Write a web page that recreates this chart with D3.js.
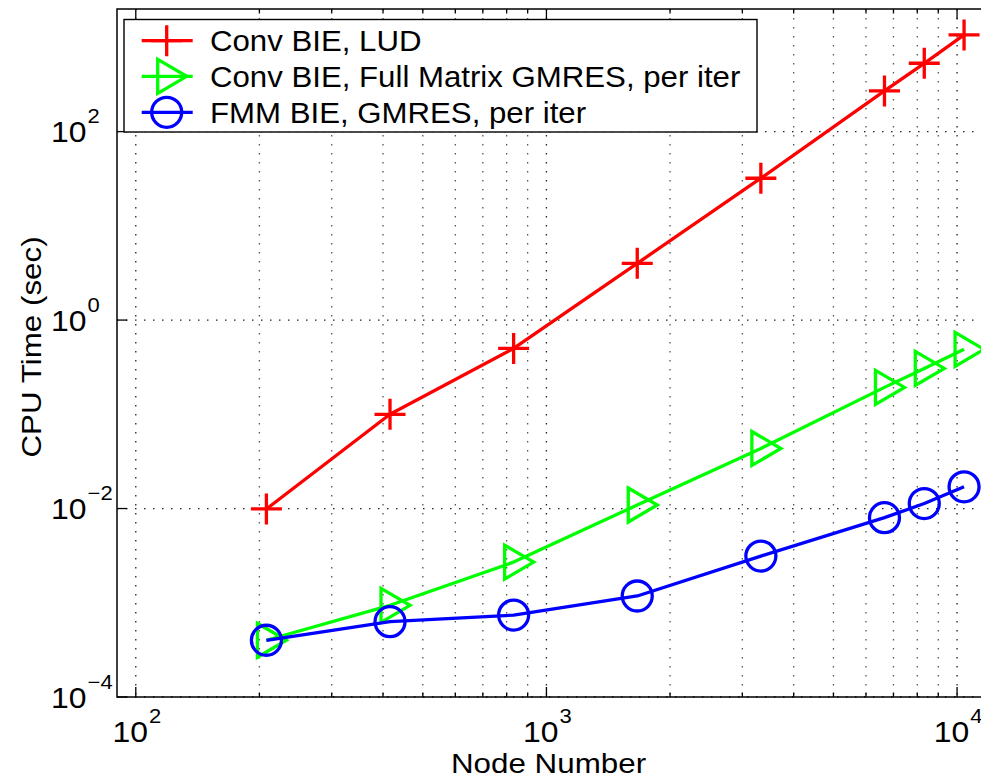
<!DOCTYPE html>
<html>
<head>
<meta charset="utf-8">
<script src="https://cdn.jsdelivr.net/npm/d3@7/dist/d3.min.js"></script>
<style>
  html, body { margin: 0; padding: 0; background: #fff; }
  svg { display: block; }
  text { font-family: "Liberation Sans", Arial, Helvetica, sans-serif; fill: #000; }
</style>
</head>
<body>
<svg id="chart" width="981" height="778"></svg>
<script>
// Node counts (x) and CPU times in seconds (y) for each solver
const nodes      = [208, 416, 832, 1664, 3328, 6656, 8320, 10400];
const convLUD    = [0.0099, 0.1, 0.5, 4.0, 32, 270, 531, 1062];
const convGMRES  = [4.0e-4, 9.4e-4, 2.7e-3, 0.0109, 0.0434, 0.193, 0.307, 0.489];
const fmmGMRES   = [4.0e-4, 6.3e-4, 7.4e-4, 1.18e-3, 3.13e-3, 8.0e-3, 0.0113, 0.0170];

const seriesNames  = ["Conv BIE, LUD", "Conv BIE, Full Matrix GMRES, per iter", "FMM BIE, GMRES, per iter"];
const seriesColors = ["#ff0000", "#00ff00", "#0000ff"];
const seriesMarks  = ["plus", "triangle", "circle"];

// Axis limits and labelled ticks
const xLim = [90, 11500];
const yLim = [1e-4, 2000];
const xTickExps = [2, 3, 4];
const yTickExps = [-4, -2, 0, 2];
const xLabel = "Node Number";
const yLabel = "CPU Time (sec)";

const plot = { left: 117, right: 982, top: 9, bottom: 697 };

const svg = d3.select("#chart");
const x = d3.scaleLog().domain(xLim).range([plot.left, plot.right]);
const y = d3.scaleLog().domain(yLim).range([plot.bottom, plot.top]);

// ---- grid ----
const grid = svg.append("g").attr("stroke-dasharray", "1.5,7.5").attr("fill", "none");
const xGridVals = [];
for (let e = 1; e <= 4; e++) for (let m = 1; m <= 9; m++) {
  const v = m * Math.pow(10, e);
  if (v > xLim[0] && v < xLim[1]) xGridVals.push(v);
}
grid.selectAll("line.xg").data(xGridVals).join("line")
  .attr("x1", d => x(d)).attr("x2", d => x(d))
  .attr("y1", plot.top).attr("y2", plot.bottom)
  .attr("stroke", d => Number.isInteger(Math.log10(d)) ? "#222" : "#555")
  .attr("stroke-width", 1.3);
grid.selectAll("line.yg").data(yTickExps.map(e => Math.pow(10, e))).join("line")
  .attr("x1", plot.left).attr("x2", plot.right)
  .attr("y1", d => y(d)).attr("y2", d => y(d))
  .attr("stroke", "#222").attr("stroke-width", 1.3);

// ---- ticks (inward, bottom and top) ----
const ticks = svg.append("g").attr("stroke", "#000").attr("stroke-width", 1.3);
xGridVals.forEach(v => {
  const major = Number.isInteger(Math.log10(v));
  const len = major ? 10 : 4.5;
  ticks.append("line").attr("x1", x(v)).attr("x2", x(v)).attr("y1", plot.bottom).attr("y2", plot.bottom - len);
  ticks.append("line").attr("x1", x(v)).attr("x2", x(v)).attr("y1", plot.top).attr("y2", plot.top + len);
});
yTickExps.forEach(e => {
  const v = Math.pow(10, e);
  ticks.append("line").attr("x1", plot.left).attr("x2", plot.left + 10).attr("y1", y(v)).attr("y2", y(v));
});

// ---- axes box ----
svg.append("rect")
  .attr("x", plot.left).attr("y", plot.top)
  .attr("width", plot.right - plot.left).attr("height", plot.bottom - plot.top)
  .attr("fill", "none").attr("stroke", "#000").attr("stroke-width", 1.5);

// ---- tick labels: 10 with superscript exponent ----
const SX = 1.1; // horizontal stretch of the figure text
function powerLabel(g, px, py, exp, anchor) {
  const t = g.append("text")
    .attr("transform", `translate(${px},${py}) scale(${SX},1)`)
    .attr("text-anchor", anchor)
    .attr("font-size", 29);
  t.append("tspan").text("10");
  t.append("tspan").attr("font-size", 20).attr("dy", -19).attr("dx", 1)
    .text(exp < 0 ? "\u2212" + Math.abs(exp) : String(exp));
}
const labels = svg.append("g");
xTickExps.forEach(e => powerLabel(labels, x(Math.pow(10, e)) + 1, 741.5, e, "middle"));
yTickExps.forEach(e => powerLabel(labels, 51, y(Math.pow(10, e)) + 10.5, e, "start"));

// axis titles
svg.append("text")
  .attr("transform", `translate(${(plot.left + plot.right) / 2 - 1},773) scale(1.12,1)`)
  .attr("text-anchor", "middle").attr("font-size", 28).text(xLabel);
svg.append("text")
  .attr("transform", `translate(41,347) rotate(-90) scale(1.12,1)`)
  .attr("text-anchor", "middle").attr("font-size", 28).text(yLabel);

// ---- markers ----
const MS = 3.3;
function drawMarker(g, kind, cx, cy, color) {
  if (kind === "plus") {
    g.append("path").attr("d", `M${cx - 15.5},${cy}H${cx + 15.5}M${cx},${cy - 15.5}V${cy + 15.5}`)
      .attr("stroke", color).attr("stroke-width", MS).attr("fill", "none");
  } else if (kind === "triangle") {
    g.append("path").attr("d", `M${cx - 9},${cy - 17}L${cx + 20},${cy}L${cx - 9},${cy + 17}Z`)
      .attr("stroke", color).attr("stroke-width", MS).attr("fill", "none").attr("stroke-linejoin", "miter");
  } else {
    g.append("circle").attr("cx", cx).attr("cy", cy).attr("r", 15)
      .attr("stroke", color).attr("stroke-width", MS).attr("fill", "none");
  }
}

// ---- series ----
const allSeries = [convLUD, convGMRES, fmmGMRES];
const line = d3.line().x(d => x(d[0])).y(d => y(d[1]));
allSeries.forEach((vals, i) => {
  const pts = nodes.map((n, j) => [n, vals[j]]);
  const g = svg.append("g");
  g.append("path").attr("d", line(pts))
    .attr("fill", "none").attr("stroke", seriesColors[i]).attr("stroke-width", 3.3)
    .attr("stroke-linejoin", "round");
  pts.forEach(p => drawMarker(g, seriesMarks[i], x(p[0]), y(p[1]), seriesColors[i]));
});

// ---- legend ----
const lg = svg.append("g");
lg.append("rect").attr("x", 124).attr("y", 19.5).attr("width", 633).attr("height", 112.5)
  .attr("fill", "#fff").attr("stroke", "#000").attr("stroke-width", 1.4);
const rowY = [40.7, 76.3, 112.3];
seriesNames.forEach((name, i) => {
  const ry = rowY[i];
  lg.append("line").attr("x1", 141.7).attr("x2", 192.7).attr("y1", ry).attr("y2", ry)
    .attr("stroke", seriesColors[i]).attr("stroke-width", 3.3);
  drawMarker(lg, seriesMarks[i], 166.7, ry, seriesColors[i]);
  lg.append("text")
    .attr("transform", `translate(210,${ry + 10.6}) scale(1.04,1)`)
    .attr("font-size", 30).text(name);
});
</script>
</body>
</html>
